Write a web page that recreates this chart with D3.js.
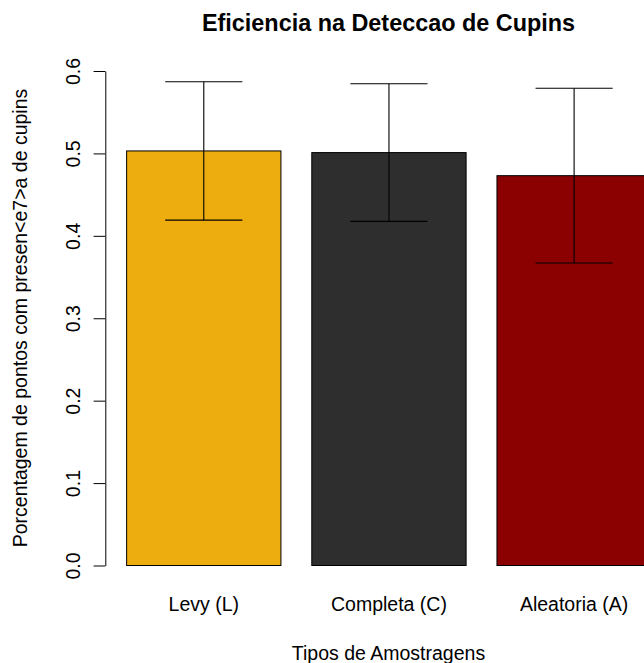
<!DOCTYPE html>
<html>
<head>
<meta charset="utf-8">
<script src="https://cdn.jsdelivr.net/npm/d3@7"></script>
<style>
  html, body { margin: 0; padding: 0; background: #ffffff; }
  svg { display: block; }
  text { font-family: "Liberation Sans", Arial, Helvetica, sans-serif; fill: #000; }
</style>
</head>
<body>
<div id="chart"></div>
<script>
// Sampling strategies and the share of points where termites were found
const categories = ["Levy (L)", "Completa (C)", "Aleatoria (A)"];
const means = [0.503, 0.501, 0.473];
const stdErrors = [0.084, 0.0835, 0.106];
const barColors = ["#EEAD0E", "#2E2E2E", "#8B0000"];
const yTicks = [0, 0.1, 0.2, 0.3, 0.4, 0.5, 0.6];

const W = 644, H = 663;
const fontSize = 19.5;

const svg = d3.select("#chart").append("svg")
  .attr("width", W).attr("height", H);

// Horizontal layout: bars of width 1 separated by a 0.2 gap
const x = d3.scaleBand()
  .domain(categories)
  .range([110.7, 666.2])
  .paddingInner(1 / 6)
  .paddingOuter(1 / 12);

const y = d3.scaleLinear()
  .domain([0, 0.6])
  .range([565.5, 71]);

const axisX = 105.3;

// Bars
svg.append("g")
  .selectAll("rect")
  .data(categories)
  .join("rect")
  .attr("x", d => x(d) + 0.5)
  .attr("y", (d, i) => y(means[i]))
  .attr("width", x.bandwidth())
  .attr("height", (d, i) => y(0) - y(means[i]))
  .attr("fill", (d, i) => barColors[i])
  .attr("stroke", "#000")
  .attr("stroke-width", 1);

// Error bars (mean ± standard error)
const eb = svg.append("g").attr("stroke", "#000").attr("stroke-width", 1.1);
categories.forEach((c, i) => {
  const cx = x(c) + x.bandwidth() / 2 + 0.5;
  const half = x.bandwidth() / 4;
  const top = y(means[i] + stdErrors[i]);
  const bot = y(means[i] - stdErrors[i]);
  eb.append("line").attr("x1", cx).attr("x2", cx).attr("y1", top).attr("y2", bot);
  eb.append("line").attr("x1", cx - half).attr("x2", cx + half).attr("y1", top).attr("y2", top);
  eb.append("line").attr("x1", cx - half).attr("x2", cx + half).attr("y1", bot).attr("y2", bot);
});

// Y axis with rotated tick labels
const yAxis = d3.axisLeft(y)
  .tickValues(yTicks)
  .tickFormat(d3.format(".1f"))
  .tickSize(11.7)
  .tickSizeOuter(0)
  .tickPadding(0);

const gy = svg.append("g")
  .attr("transform", `translate(${axisX},0)`)
  .call(yAxis);
gy.select(".domain").attr("stroke", "#000").attr("stroke-width", 1);
gy.selectAll(".tick line").attr("stroke", "#000").attr("stroke-width", 1);
gy.selectAll(".tick text")
  .attr("x", null).attr("dy", null)
  .attr("transform", "translate(-25,0) rotate(-90)")
  .attr("text-anchor", "middle")
  .style("font-size", fontSize + "px")
  .style("font-family", "'Liberation Sans', Arial, Helvetica, sans-serif")
  .attr("fill", "#000");

// Category labels under the bars
svg.append("g")
  .selectAll("text")
  .data(categories)
  .join("text")
  .attr("x", d => x(d) + x.bandwidth() / 2 + 0.5)
  .attr("y", 611)
  .attr("text-anchor", "middle")
  .style("font-size", fontSize + "px")
  .text(d => d);

// Axis titles
svg.append("text")
  .attr("x", 388.5)
  .attr("y", 660)
  .attr("text-anchor", "middle")
  .style("font-size", fontSize + "px")
  .text("Tipos de Amostragens");

svg.append("text")
  .attr("transform", "translate(27,318) rotate(-90)")
  .attr("text-anchor", "middle")
  .style("font-size", fontSize + "px")
  .text("Porcentagem de pontos com presen<e7>a de cupins");

// Title
svg.append("text")
  .attr("x", 388.5)
  .attr("y", 31)
  .attr("text-anchor", "middle")
  .style("font-size", (fontSize * 1.2) + "px")
  .style("font-weight", "bold")
  .text("Eficiencia na Deteccao de Cupins");
</script>
</body>
</html>
